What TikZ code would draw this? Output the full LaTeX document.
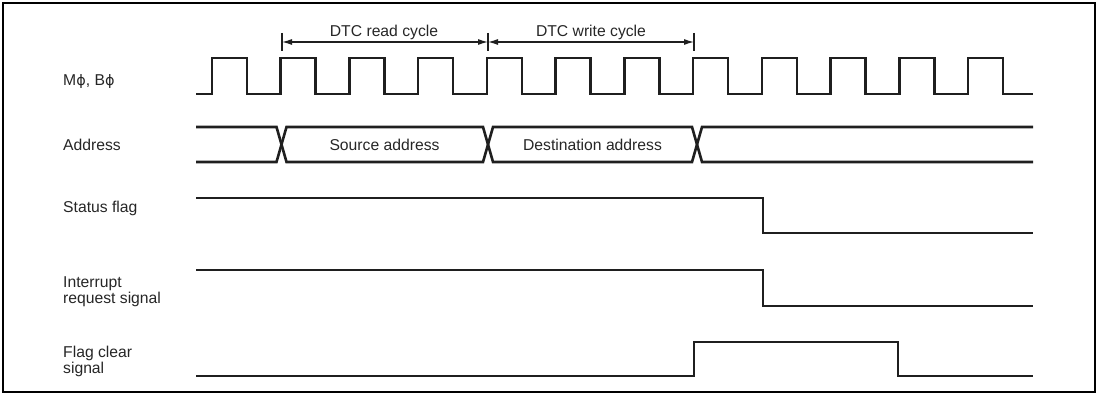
\documentclass[tikz,border=0pt]{standalone}
\usepackage{fontspec}
\setmainfont{Liberation Sans}
\newfontfamily\phifont[Scale=0.92]{DejaVu Sans}
\newcommand{\myphi}{{\phifont ϕ}}
\usetikzlibrary{arrows.meta}
\begin{document}
\begin{tikzpicture}[x=1pt,y=-1pt,
  sig/.style={line width=2.6pt,line join=miter,draw=black!88},
  lbl/.style={anchor=base west,inner sep=0pt,font=\fontsize{15.7}{18}\selectfont,text=black!85},
  ctr/.style={anchor=base,inner sep=0pt,font=\fontsize{15.7}{18}\selectfont,text=black!85},
  tickmark/.style={line width=1.2pt,draw=black!88},
  spanarrow/.style={line width=1.2pt,draw=black!88,{Latex[length=10pt,width=6pt]}-{Latex[length=10pt,width=6pt]}}]
\useasboundingbox (0,0) rectangle (1099,395);
\draw[line width=2.5pt] (3,3) rectangle (1095,392);

% labels
\node[lbl] (lclk) at (63,86) {M\myphi, B\myphi};
\node[lbl] (ladr) at (63,151) {Address};
\node[lbl] (lsta) at (63,213) {Status flag};
\node[lbl] (lirq1) at (63,287) {Interrupt};
\node[lbl] (lirq2) at (63,303) {request signal};
\node[lbl] (lfcl1) at (63,357) {Flag clear};
\node[lbl] (lfcl2) at (63,373) {signal};

% cycle markers
\coordinate (t1) at (282,42);
\coordinate (t2) at (488,42);
\coordinate (t3) at (694,42);
\draw[tickmark] (282,33) -- (282,51);
\draw[tickmark] (488,33) -- (488,51);
\draw[tickmark] (694,33) -- (694,51);
\draw[spanarrow] (t1) -- (t2);
\draw[spanarrow] (t2) -- (t3);
\node[ctr] (rd) at (384,37) {DTC read cycle};
\node[ctr] (wr) at (591,37) {DTC write cycle};

% clock
\draw[sig] (196,94) \foreach \k in {0,...,11}{ -- ({212+68.73*\k},94) -- ({212+68.73*\k},58) -- ({247+68.73*\k},58) -- ({247+68.73*\k},94)} -- (1033,94);

% address
\draw[sig] (196,127) -- (276.5,127) -- (286.5,162) -- (483,162) -- (493,127) -- (692,127) -- (702,162) -- (1033,162);
\draw[sig] (196,162) -- (276.5,162) -- (286.5,127) -- (483,127) -- (493,162) -- (692,162) -- (702,127) -- (1033,127);
\node[ctr] (src) at (384.5,151) {Source address};
\node[ctr] (dst) at (592.5,151) {Destination address};

% status flag
\draw[sig] (196,198) -- (763,198) -- (763,233) -- (1033,233);
% interrupt request
\draw[sig] (196,270) -- (763,270) -- (763,306) -- (1033,306);
% flag clear
\draw[sig] (196,376) -- (694,376) -- (694,342) -- (898,342) -- (898,376) -- (1033,376);
\end{tikzpicture}
\end{document}
